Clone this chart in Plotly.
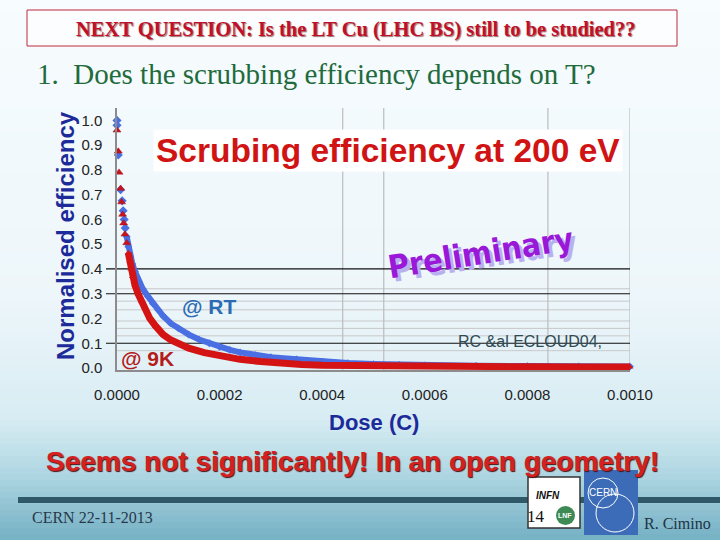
import plotly.graph_objects as go

# ---- data ----
# RT (blue diamonds): separate markers near the origin, then a dense band
rt_top_dose = [0.0, 0.0, 2.5e-6, 7e-6, 1.0e-5, 1.2e-5, 1.4e-5, 1.6e-5]
rt_top_eff = [1.00, 0.98, 0.86, 0.72, 0.675, 0.635, 0.60, 0.565]
rt_dose = [1.9e-5, 2.2e-5, 2.6e-5, 3.0e-5, 3.5e-5, 4.2e-5, 5.0e-5, 6.0e-5, 7.0e-5,
           8.0e-5, 9.0e-5, 1.05e-4, 1.2e-4, 1.4e-4, 1.6e-4, 1.8e-4, 2.0e-4, 2.2e-4,
           2.4e-4, 2.7e-4, 3.0e-4, 3.5e-4, 4.0e-4, 4.5e-4, 5.0e-4, 5.5e-4, 6.0e-4,
           7.0e-4, 8.0e-4, 9.0e-4, 1.0e-3]
rt_eff = [0.53, 0.49, 0.45, 0.42, 0.39, 0.35, 0.32, 0.29, 0.26,
          0.235, 0.21, 0.18, 0.16, 0.135, 0.115, 0.10, 0.085, 0.073,
          0.063, 0.052, 0.044, 0.035, 0.026, 0.02, 0.016, 0.013, 0.011,
          0.009, 0.008, 0.007, 0.006]

# 9K (red triangles)
k9_top_dose = [0.0, 2.5e-6, 4e-6, 7e-6, 9e-6, 1.1e-5, 1.3e-5, 1.55e-5, 1.9e-5]
k9_top_eff = [0.96, 0.875, 0.79, 0.725, 0.67, 0.62, 0.585, 0.54, 0.505]
k9_dose = [2.2e-5, 2.5e-5, 2.7e-5, 3.0e-5, 3.5e-5, 4.1e-5, 4.8e-5, 5.5e-5, 6.4e-5,
           7.5e-5, 9.0e-5, 1.05e-4, 1.17e-4, 1.4e-4, 1.7e-4, 2.0e-4, 2.4e-4, 2.8e-4,
           3.2e-4, 3.6e-4, 4.0e-4, 5.0e-4, 6.0e-4, 7.0e-4, 8.0e-4, 9.0e-4, 1.0e-3]
k9_eff = [0.465, 0.43, 0.40, 0.37, 0.335, 0.30, 0.27, 0.24, 0.20,
          0.17, 0.135, 0.113, 0.10, 0.08, 0.062, 0.048, 0.035, 0.026,
          0.018, 0.014, 0.011, 0.008, 0.006, 0.005, 0.005, 0.004, 0.004]

x_ticks = [0.0, 0.0002, 0.0004, 0.0006, 0.0008, 0.0010]
x_ticklabels = ["0.0000", "0.0002", "0.0004", "0.0006", "0.0008", "0.0010"]
y_ticks = [0.0, 0.1, 0.2, 0.3, 0.4, 0.5, 0.6, 0.7, 0.8, 0.9, 1.0]
y_ticklabels = ["0.0", "0.1", "0.2", "0.3", "0.4", "0.5", "0.6", "0.7", "0.8", "0.9", "1.0"]

major_grid_y = [0.1, 0.3, 0.4]
minor_grid_y = [0.07, 0.13, 0.16, 0.19, 0.235, 0.27, 0.32]
grid_x = [0.00044, 0.00052, 0.00084, 0.001]

# ---- pixel helpers (plot area 117..630 x 108..370) ----
L, R, T, B = 117, 630, 108, 370
W, H = R - L, B - T


def px(x):
    return (x - L) / W


def py(y):
    return (B - y) / H


def mix(c1, c2, t):
    return "rgb(%d,%d,%d)" % tuple(round(a + (b - a) * t) for a, b in zip(c1, c2))


fig = go.Figure()

fig.add_trace(go.Scatter(x=rt_dose, y=rt_eff, mode="lines+markers",
                         line=dict(color="#4a6fe3", width=6),
                         marker=dict(symbol="diamond", size=6, color="#4a6fe3"),
                         cliponaxis=False, hoverinfo="skip"))
fig.add_trace(go.Scatter(x=rt_top_dose, y=rt_top_eff, mode="markers",
                         marker=dict(symbol="diamond", size=7, color="#4a6fe3"),
                         cliponaxis=False, hoverinfo="skip"))
fig.add_trace(go.Scatter(x=k9_dose, y=k9_eff, mode="lines+markers",
                         line=dict(color="#d41414", width=7),
                         marker=dict(symbol="triangle-up", size=6, color="#d41414"),
                         cliponaxis=False, hoverinfo="skip"))
fig.add_trace(go.Scatter(x=k9_top_dose, y=k9_top_eff, mode="markers",
                         marker=dict(symbol="triangle-up", size=7, color="#c8141e",
                                     line=dict(color="#a01020", width=0.5)),
                         cliponaxis=False, hoverinfo="skip"))

shapes = []
# slide background gradient
stops = [(0, (247, 252, 254)), (300, (237, 246, 250)), (420, (215, 236, 243)),
         (470, (178, 216, 228)), (540, (116, 176, 196))]
for y0 in range(0, 540, 6):
    yc = y0 + 3
    for (a, ca), (b, cb) in zip(stops[:-1], stops[1:]):
        if a <= yc <= b:
            col = mix(ca, cb, (yc - a) / (b - a))
            break
    shapes.append(dict(type="rect", xref="paper", yref="paper", layer="below",
                       x0=px(0), x1=px(720), y0=py(y0 + 6.5), y1=py(y0),
                       fillcolor=col, line=dict(width=0)))

# header box
shapes.append(dict(type="rect", xref="paper", yref="paper", x0=px(27), x1=px(677),
                   y0=py(46), y1=py(10), fillcolor="#fcfdfe",
                   line=dict(color="#c0283c", width=1)))

# chart grid
for g in minor_grid_y:
    shapes.append(dict(type="line", xref="paper", yref="y", x0=0, x1=1, y0=g, y1=g,
                       layer="below", line=dict(color="#c8c8c8", width=1)))
for g in grid_x:
    shapes.append(dict(type="line", xref="x", yref="paper", x0=g, x1=g, y0=0, y1=1,
                       layer="below", line=dict(color="#bcbcbc", width=1.2)))
for g in major_grid_y:
    shapes.append(dict(type="line", xref="paper", yref="y", x0=px(106), x1=1, y0=g, y1=g,
                       layer="below", line=dict(color="#111111", width=1.2)))

# footer bar and logos
shapes.append(dict(type="rect", xref="paper", yref="paper", x0=px(18), x1=px(720),
                   y0=py(503), y1=py(497), fillcolor="#2f5868", line=dict(width=0)))
shapes.append(dict(type="rect", xref="paper", yref="paper", x0=px(528), x1=px(580),
                   y0=py(528), y1=py(477), fillcolor="#ffffff",
                   line=dict(color="#333333", width=1.5)))
shapes.append(dict(type="circle", xref="paper", yref="paper", x0=px(556), x1=px(575),
                   y0=py(525), y1=py(506), fillcolor="#3d8a55", line=dict(width=0)))
shapes.append(dict(type="rect", xref="paper", yref="paper", x0=px(584), x1=px(638),
                   y0=py(535), y1=py(470), fillcolor="#3c6cb8", line=dict(width=0)))
shapes.append(dict(type="circle", xref="paper", yref="paper", x0=px(588), x1=px(618),
                   y0=py(508), y1=py(478), line=dict(color="#ffffff", width=1)))
shapes.append(dict(type="circle", xref="paper", yref="paper", x0=px(596), x1=px(634),
                   y0=py(532), y1=py(494), line=dict(color="#ffffff", width=1)))

ann = []


def text(x, y, s, size, color, family="Liberation Sans", xanchor="center", **kw):
    ann.append(dict(x=px(x), y=py(y), xref="paper", yref="paper", text=s,
                    showarrow=False, xanchor=xanchor, yanchor="middle",
                    font=dict(family=family, size=size, color=color,
                              **kw.pop("font_extra", {})), **kw))


text(356, 29, "<b>NEXT QUESTION: Is the LT Cu (LHC BS) still to be studied??</b>", 20.5,
     "#c0102a", family="Liberation Serif", font_extra=dict(shadow="1px 1px 1px #9a7070"))
text(35, 74, "1.\u00a0 Does the scrubbing efficiency depends on T?", 29, "#1f6b3c",
     family="Liberation Serif", xanchor="left")
text(388, 150, "<b>Scrubing efficiency at 200 eV</b>", 33.5, "#d01414",
     bgcolor="#ffffff", borderpad=2)
text(481, 253, "<b>Preliminary</b>", 32, "#9a18d8",
     family="DejaVu Sans Condensed, Liberation Sans Narrow, Roboto Condensed, Liberation Sans",
     textangle=-9, font_extra=dict(shadow="3px 4px 0px #b9b0f0"))
text(209, 306, "<b>@ RT</b>", 21, "#2b6cb4")
text(147, 358, "<b>@ 9K</b>", 21, "#b41c1c")
text(530, 341, "RC &al ECLOUD04,", 16, "#2f4a55")
text(65, 236, "<b>Normalised efficiency</b>", 24, "#1c2a9a", textangle=-90)
text(374, 422, "<b>Dose (C)</b>", 22, "#1c2a9a")
text(352, 461, "<b>Seems not significantly! In an open geometry!</b>", 28, "#d42020",
     font_extra=dict(shadow="1px 1px 1px #4a1010"))
text(30, 517, "CERN 22-11-2013", 16, "#28384a", family="Liberation Serif", xanchor="left")
text(548, 495, "<b><i>INFN</i></b>", 10, "#111111")
text(565, 515, "<b>LNF</b>", 7, "#ffffff")
text(603, 492, "CERN", 10, "#ffffff")
text(536, 516, "14", 17, "#111111", family="Liberation Serif")
text(642, 523, "R. Cimino", 16, "#223344", family="Liberation Serif", xanchor="left")

fig.update_layout(
    width=720, height=540,
    margin=dict(l=L, r=720 - R, t=T, b=540 - B),
    paper_bgcolor="#eef6f9", plot_bgcolor="#ffffff",
    showlegend=False,
    shapes=shapes, annotations=ann,
    font=dict(family="Liberation Sans", color="#222222"),
)
fig.update_xaxes(range=[0, 0.001], tickvals=x_ticks, ticktext=x_ticklabels,
                 showgrid=False, zeroline=False, showline=True, linecolor="#8c8c8c",
                 linewidth=1.5, ticks="", ticklabelstandoff=10,
                 tickfont=dict(size=15, color="#222222"))
fig.update_yaxes(range=[-0.008, 1.05], tickvals=y_ticks, ticktext=y_ticklabels,
                 showgrid=False, zeroline=False, showline=True, linecolor="#8c8c8c",
                 linewidth=1.5, ticks="", ticklabelstandoff=10,
                 tickfont=dict(size=15, color="#222222"))

# page body has a default 8px margin; remove it so the figure fills the window
fig.write_html("out.html", config={"displayModeBar": False},
               post_script="document.body.style.margin='0px';")
